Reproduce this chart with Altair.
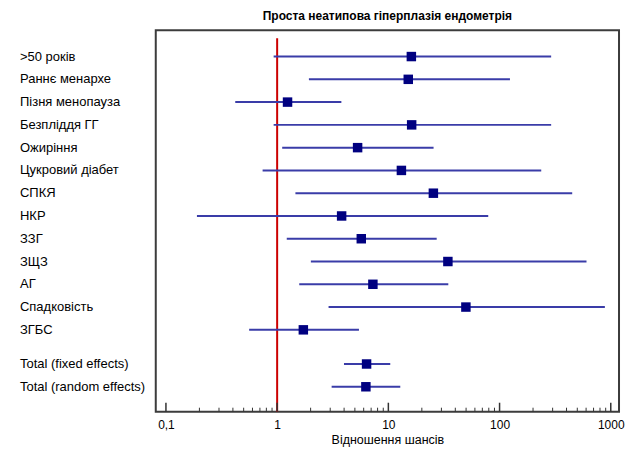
import altair as alt
import pandas as pd

labels = [">50 років", "Раннє менархе", "Пізня менопауза", "Безпліддя ГГ", "Ожиріння",
          "Цукровий діабет", "СПКЯ", "НКР", "ЗЗГ", "ЗЩЗ", "АГ", "Спадковість", "ЗГБС",
          "Total (fixed effects)", "Total (random effects)"]
rows = [0, 1, 2, 3, 4, 5, 6, 7, 8, 9, 10, 11, 12, 13.5, 14.5]
odds = [16.1, 15.1, 1.24, 16.2, 5.29, 13.1, 25.4, 3.80, 5.71, 34.3, 7.26, 49.8, 1.72, 6.37, 6.28]
lower = [0.93, 1.93, 0.42, 0.93, 1.11, 0.74, 1.46, 0.19, 1.22, 2.01, 1.58, 2.90, 0.56, 3.99, 3.09]
upper = [291, 124, 3.78, 291, 25.5, 237, 450, 79.1, 27.2, 605, 34.6, 885, 5.44, 10.4, 12.8]

major_ticks = [0.1, 1, 10, 100, 1000]
minor_ticks = [0.2, 0.3, 0.4, 0.5, 0.6, 0.7, 0.8, 0.9,
               2, 3, 4, 5, 6, 7, 8, 9,
               20, 30, 40, 50, 60, 70, 80, 90,
               200, 300, 400, 500, 600, 700, 800, 900]

df = pd.DataFrame({"label": labels, "row": rows, "odds": odds, "lo": lower, "hi": upper})
df_major = pd.DataFrame({"v": major_ticks})
df_minor = pd.DataFrame({"v": minor_ticks})
df_ref = pd.DataFrame({"v": [1]})

FONT = "Liberation Sans"
W, H = 464, 382

xscale = alt.Scale(type="log", domain=[0.081, 1186], nice=False, zero=False)
yscale = alt.Scale(domain=[-1.152, 15.595], nice=False, zero=False, reverse=True)
xaxis = alt.Axis(values=major_ticks,
                 labelExpr="datum.value < 1 ? '0,1' : format(datum.value, 'd')",
                 ticks=False, domain=False, grid=False,
                 labelFont=FONT, labelFontSize=12, labelColor="#000000",
                 labelPadding=8, labelFlush=False,
                 title="Відношення шансів", titleFont=FONT, titleFontSize=12.5,
                 titleFontWeight="normal", titleColor="#000000", titlePadding=3)

def X(field):
    return alt.X(field, scale=xscale, axis=xaxis, title="Відношення шансів")

Y = alt.Y("row:Q", scale=yscale, axis=None)

base = alt.Chart(df)

ci = base.mark_rule(color="#3a3ca8", strokeWidth=2).encode(
    x=X("lo:Q"), x2="hi:Q", y=Y,
)

pts = base.mark_square(size=90, color="#000080", opacity=1).encode(
    x=X("odds:Q"), y=Y,
)

txt = base.mark_text(align="left", baseline="middle", font=FONT, fontSize=13, color="#000000").encode(
    x=alt.value(-136), y=Y, text="label:N",
)

ref = alt.Chart(df_ref).mark_rule(color="#cc0000", strokeWidth=2).encode(
    x=X("v:Q"), y=alt.value(8), y2=alt.value(H),
)

maj = alt.Chart(df_major).mark_rule(color="#333333", strokeWidth=1.5).encode(
    x=X("v:Q"), y=alt.value(H - 9), y2=alt.value(H),
)

mino = alt.Chart(df_minor).mark_rule(color="#333333", strokeWidth=1).encode(
    x=X("v:Q"), y=alt.value(H - 4), y2=alt.value(H),
)

chart = alt.layer(ref, maj, mino, ci, pts, txt).properties(
    width=W, height=H,
    autosize="none",
    padding={"left": 148, "top": 22, "right": 8, "bottom": 38},
    title=alt.TitleParams("Проста неатипова гіперплазія ендометрія", font=FONT, fontSize=12,
                          fontWeight="bold", color="#000000", anchor="middle", offset=7),
).configure_view(stroke="#3c3c3c", strokeWidth=2)

chart.save("out.html", embed_options={"renderer": "svg", "actions": False})
